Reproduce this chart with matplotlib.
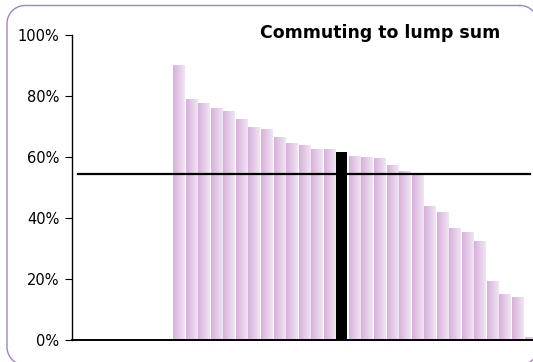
import numpy as np
import matplotlib
matplotlib.use("Agg")
import matplotlib.pyplot as plt
from matplotlib.lines import Line2D
from matplotlib.colors import LinearSegmentedColormap
from matplotlib.ticker import PercentFormatter

# share commuting to a lump sum, one value per scheme (leading slots are empty)
shares = [np.nan] * 8 + [
    90.3, 79.0, 77.6, 76.2, 75.0, 72.6, 69.7, 69.1, 66.5, 64.6, 63.9, 62.5,
    62.5, 61.6, 60.3, 60.0, 59.6, 57.3, 55.3, 54.4, 43.9, 42.0, 36.6, 35.3,
    32.4, 19.3, 15.1, 14.1, 1.0,
]
highlight = 21          # index of the highlighted scheme
average = 54.4          # overall average
title = "Commuting to lump sum"
yticks = [0, 20, 40, 60, 80, 100]

plt.rcParams["font.family"] = ["DejaVu Sans"]

W, H = 533, 362
fig = plt.figure(figsize=(W / 100, H / 100), dpi=100)
ax = fig.add_axes([72 / W, 1 - 340 / H, 464.4 / W, 305 / H])

x = np.arange(len(shares))
width = 0.88
bars = ax.bar(x, shares, width=width, color="none", edgecolor="none", zorder=2)

# horizontal lavender gradient on each bar
grad = LinearSegmentedColormap.from_list("lav", ["#d8b0da", "#f1e5f4"])
ramp = np.linspace(0, 1, 64).reshape(1, -1)
for i, (b, v) in enumerate(zip(bars, shares)):
    if np.isnan(v):
        continue
    if i == highlight:
        b.set_facecolor("black")
        continue
    x0 = b.get_x()
    im = ax.imshow(ramp, cmap=grad, aspect="auto",
                   extent=(x0, x0 + width, 0, v), zorder=2, interpolation="bilinear")
    im.set_clip_path(b)

ax.plot([x[0], x[-1]], [average, average], color="black", lw=1.6, zorder=3)

ax.set_xlim(-0.5, len(shares) - 0.5)
ax.set_ylim(0, 100)
ax.set_yticks(yticks)
ax.yaxis.set_major_formatter(PercentFormatter(decimals=0))
ax.set_xticks([])
ax.tick_params(axis="y", direction="out", length=5, width=0.8, labelsize=10.5, pad=4)
for s in ["top", "right"]:
    ax.spines[s].set_visible(False)
ax.spines["left"].set_linewidth(1.0)
ax.spines["bottom"].set_linewidth(1.4)
ax.spines["bottom"].set_zorder(4)

fig.text(500 / W, 1 - 33 / H, title, ha="right", va="center",
         fontsize=12.5, fontweight="bold")

# rounded frame in pixel units (y down), running off the right and bottom edges
left, right, top, bottom, r = 7, 538, 5.5, 365, 18
corners = [(right - r, top + r, -90, 0), (right - r, bottom - r, 0, 90),
           (left + r, bottom - r, 90, 180), (left + r, top + r, 180, 270)]
px, py = [], []
for cx, cy, a0, a1 in corners:
    t = np.radians(np.linspace(a0, a1, 20))
    px.extend(cx + r * np.cos(t))
    py.extend(cy + r * np.sin(t))
px.append(px[0])
py.append(py[0])
fig.add_artist(Line2D(np.array(px) / W, 1 - np.array(py) / H,
                      transform=fig.transFigure, color="#a084c8", lw=1.0))

fig.savefig("out.png", dpi=100)
